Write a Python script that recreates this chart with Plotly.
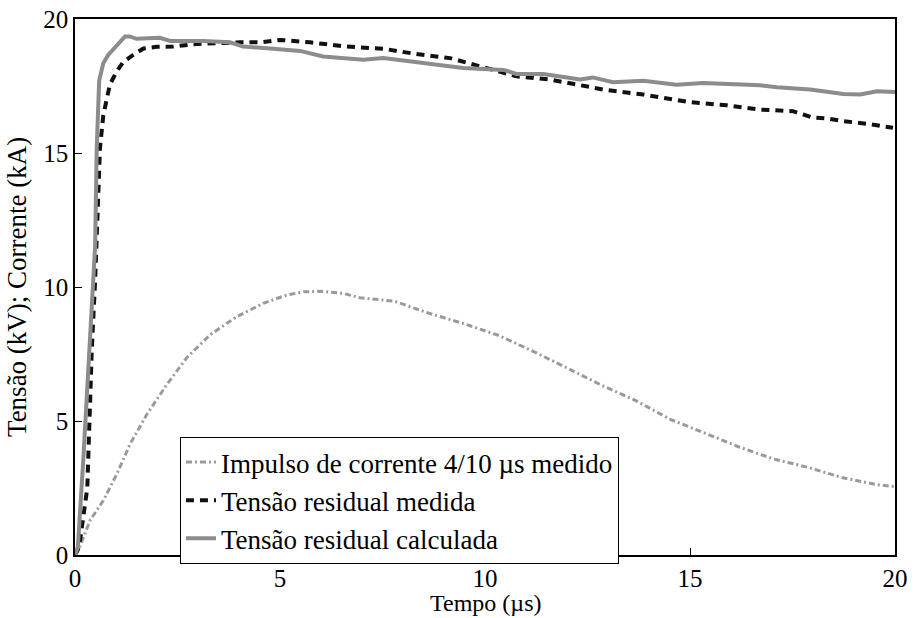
import plotly.graph_objects as go

# Current impulse 4/10 us measured (kA)
t_cur = [0.0, 0.08, 0.37, 0.69, 1.02, 1.34, 1.75, 2.24, 2.72, 3.29, 3.94, 4.59, 5.16, 5.57, 5.98, 6.54,
         6.95, 7.79, 8.63, 9.47, 10.32, 11.16, 12.0, 12.84, 13.68, 14.52, 15.36, 16.2, 17.04, 17.88,
         18.73, 19.57, 20.0]
i_cur = [0.0, 0.17, 1.3, 2.03, 3.02, 4.13, 5.24, 6.36, 7.35, 8.21, 8.89, 9.39, 9.7, 9.82, 9.84, 9.76,
         9.6, 9.47, 9.02, 8.64, 8.2, 7.61, 6.98, 6.34, 5.76, 5.06, 4.55, 4.03, 3.58, 3.27,
         2.88, 2.62, 2.55]

# Residual voltage measured (kV)
t_meas = [0.0, 0.1, 0.3, 0.41, 0.49, 0.61, 0.69, 0.77, 0.85, 1.02, 1.18, 1.42, 1.67, 1.99, 2.4, 2.89,
          3.46, 4.02, 4.55, 5.0, 5.73, 6.63, 7.52, 8.33, 9.15, 9.96, 10.77, 11.59, 12.07, 12.88,
          13.86, 14.93, 15.9, 16.71, 17.51, 18.0, 18.34, 18.73, 19.32, 19.95]
v_meas = [0.0, 0.3, 2.5, 7.7, 10.2, 15.2, 16.4, 16.9, 17.55, 18.05, 18.4, 18.66, 18.9, 18.96, 18.97, 19.06,
          19.1, 19.13, 19.13, 19.22, 19.13, 18.97, 18.89, 18.69, 18.54, 18.2, 17.86, 17.74, 17.6, 17.37,
          17.18, 16.91, 16.78, 16.62, 16.56, 16.32, 16.29, 16.19, 16.09, 15.94]

# Residual voltage calculated (kV)
t_calc = [0.0, 0.07, 0.2, 0.35, 0.49, 0.53, 0.59, 0.69, 0.81, 1.22, 1.34, 1.5, 2.07, 2.32, 3.13, 3.78,
          4.1, 4.76, 5.08, 5.49, 6.05, 7.03, 7.52, 8.33, 9.47, 9.96, 10.45, 10.77, 11.42, 12.0,
          12.32, 12.63, 13.12, 13.86, 14.67, 15.32, 16.05, 16.71, 17.12, 17.93, 18.74, 19.15,
          19.56, 20.0]
v_calc = [0.0, 0.3, 3.5, 7.5, 11.5, 15.2, 17.7, 18.35, 18.66, 19.35, 19.35, 19.26, 19.3, 19.18, 19.18, 19.13,
          18.97, 18.9, 18.85, 18.81, 18.6, 18.48, 18.54, 18.38, 18.17, 18.13, 18.1, 17.95, 17.95, 17.82,
          17.74, 17.82, 17.64, 17.7, 17.55, 17.61, 17.55, 17.53, 17.45, 17.37, 17.2, 17.18,
          17.3, 17.28]

x_ticks = [0, 5, 10, 15, 20]
y_ticks = [0, 5, 10, 15, 20]
x_title = "Tempo (µs)"
y_title = "Tensão (kV); Corrente (kA)"

FONT = "Liberation Serif"
TICK_SIZE = 25
MARGIN_B = 63
PLOT_H = 618 - 19 - MARGIN_B

fig = go.Figure()
fig.add_trace(go.Scatter(x=t_cur, y=i_cur, mode="lines",
                         name="Impulso de corrente 4/10 µs medido",
                         line=dict(color="#9a9a9a", width=3, dash="6px,3px,2px,3px")))
fig.add_trace(go.Scatter(x=t_meas, y=v_meas, mode="lines",
                         name="Tensão residual medida",
                         line=dict(color="#111111", width=4, dash="8px,6px")))
fig.add_trace(go.Scatter(x=t_calc, y=v_calc, mode="lines",
                         name="Tensão residual calculada",
                         line=dict(color="#8c8c8c", width=4)))

axis_common = dict(showline=True, linecolor="black", linewidth=1.5, mirror=True,
                   ticks="inside", ticklen=7, tickcolor="black", showgrid=False,
                   zeroline=False, automargin=False,
                   tickfont=dict(family=FONT, size=TICK_SIZE, color="black"))

fig.update_layout(
    width=916, height=618,
    margin=dict(l=75, r=21, t=19, b=MARGIN_B),
    paper_bgcolor="white", plot_bgcolor="white",
    font=dict(family=FONT, size=TICK_SIZE, color="black"),
    xaxis=dict(range=[0, 20], tickvals=x_ticks, ticktext=[str(v) for v in x_ticks],
               **axis_common),
    yaxis=dict(range=[0, 20], tickvals=y_ticks, ticktext=[str(v) for v in y_ticks],
               **axis_common),
    legend=dict(x=0.128, y=(555 - 437) / PLOT_H, xanchor="left", yanchor="top",
                bgcolor="white", bordercolor="black", borderwidth=1,
                font=dict(family=FONT, size=27, color="black"),
                tracegroupgap=0, itemwidth=30),
    showlegend=True,
    annotations=[
        dict(text=x_title, xref="paper", yref="paper", x=0.5, y=-MARGIN_B / PLOT_H,
             xanchor="center", yanchor="bottom", showarrow=False,
             font=dict(family=FONT, size=24, color="black")),
        dict(text=y_title, xref="paper", yref="paper", x=-0.0915, y=0.5,
             xanchor="left", yanchor="middle", textangle=-90, showarrow=False,
             font=dict(family=FONT, size=27, color="black")),
    ],
)

fig.write_html("out.html")
